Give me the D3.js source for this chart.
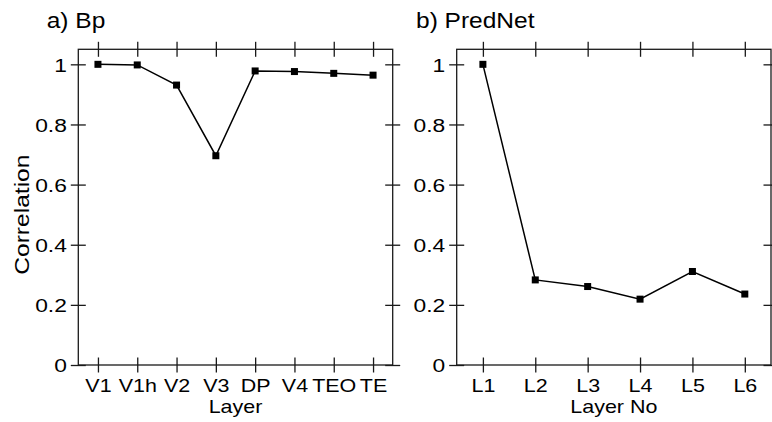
<!DOCTYPE html>
<html>
<head>
<meta charset="utf-8">
<script src="https://cdn.jsdelivr.net/npm/d3@7"></script>
<style>
  html, body { margin: 0; padding: 0; background: #fff; }
  svg { display: block; font-family: "Liberation Sans", Arial, Helvetica, sans-serif; }
</style>
</head>
<body>
<svg id="chart" width="772" height="422"></svg>
<script>
// ---- data ----
const layersA = ["V1", "V1h", "V2", "V3", "DP", "V4", "TEO", "TE"];
const corrA = [1.0, 0.998, 0.931, 0.696, 0.978, 0.976, 0.970, 0.964];
const layersB = ["L1", "L2", "L3", "L4", "L5", "L6"];
const corrB = [1.0, 0.283, 0.261, 0.219, 0.311, 0.236];
const yTicks = [0, 0.2, 0.4, 0.6, 0.8, 1];
const yTickLabels = ["0", "0.2", "0.4", "0.6", "0.8", "1"];
const titles = ["a) Bp", "b) PredNet"];
const xTitles = ["Layer", "Layer No"];
const yTitle = "Correlation";

// ---- layout ----
const svg = d3.select("#chart");
const plotTop = 49.3, plotBottom = 365;
const panels = [
  { x0: 78.3, x1: 392.7, cats: layersA, vals: corrA, title: titles[0], xt: xTitles[0], tx: 46.7 },
  { x0: 456.7, x1: 771, cats: layersB, vals: corrB, title: titles[1], xt: xTitles[1], tx: 416 }
];
const FS = 19, SX = 1.13, T = 7.5;
const ink = "#1a1a1a";

const y = d3.scaleLinear().domain([0, 1.05]).range([plotBottom, plotTop]);

function styleTicks(sel, orient) {
  sel.select(".domain").remove();
  sel.selectAll(".tick line").attr("stroke", ink).attr("stroke-width", 1.3);
  if (orient === "h") sel.selectAll(".tick line").attr("y1", -T).attr("y2", T);
  else sel.selectAll(".tick line").attr("x1", -T).attr("x2", T);
}

panels.forEach(p => {
  const x = d3.scalePoint().domain(p.cats).range([p.x0, p.x1]).padding(0.5);
  const g = svg.append("g");

  // frame
  g.append("rect")
    .attr("x", p.x0).attr("y", plotTop)
    .attr("width", p.x1 - p.x0).attr("height", plotBottom - plotTop)
    .attr("fill", "none").attr("stroke", ink).attr("stroke-width", 1.3);

  // bottom axis
  const ab = g.append("g").attr("transform", `translate(0,${plotBottom})`)
    .call(d3.axisBottom(x).tickSizeOuter(0));
  styleTicks(ab, "h");
  ab.selectAll(".tick text")
    .attr("y", 26.7).attr("dy", null)
    .attr("fill", "#000").attr("font-size", FS).attr("font-family", null)
    .attr("transform", `scale(${SX},1)`);

  // top axis
  const at = g.append("g").attr("transform", `translate(0,${plotTop})`)
    .call(d3.axisTop(x).tickSizeOuter(0).tickFormat(""));
  styleTicks(at, "h");

  // left axis
  const al = g.append("g").attr("transform", `translate(${p.x0},0)`)
    .call(d3.axisLeft(y).tickValues(yTicks).tickSizeOuter(0)
      .tickFormat((d, i) => yTickLabels[i]));
  styleTicks(al, "v");
  al.selectAll(".tick text")
    .attr("x", -11.5 / 1.2).attr("dy", "0.36em")
    .attr("fill", "#000").attr("font-size", FS).attr("font-family", null)
    .attr("transform", `scale(1.2,1)`);

  // right axis
  const ar = g.append("g").attr("transform", `translate(${p.x1},0)`)
    .call(d3.axisRight(y).tickValues(yTicks).tickSizeOuter(0).tickFormat(""));
  styleTicks(ar, "v");

  // line
  const data = p.cats.map((c, i) => ({ c, v: p.vals[i] }));
  g.append("path")
    .datum(data)
    .attr("fill", "none").attr("stroke", "#000").attr("stroke-width", 1.5)
    .attr("d", d3.line().x(d => x(d.c)).y(d => y(d.v)));

  // markers
  const ms = 7;
  g.selectAll("rect.m").data(data).enter().append("rect")
    .attr("class", "m")
    .attr("x", d => x(d.c) - ms / 2).attr("y", d => y(d.v) - ms / 2)
    .attr("width", ms).attr("height", ms).attr("fill", "#000");

  // panel title
  g.append("text")
    .attr("transform", `translate(${p.tx},28) scale(1.14,1)`)
    .attr("font-size", 21.5).attr("fill", "#000")
    .text(p.title);

  // x title
  g.append("text")
    .attr("transform", `translate(${(p.x0 + p.x1) / 2},412.7) scale(${SX},1)`)
    .attr("text-anchor", "middle")
    .attr("font-size", FS).attr("fill", "#000")
    .text(p.xt);
});

// y title
svg.append("text")
  .attr("transform", `translate(29,${y(0.5)}) rotate(-90) scale(1.2,1)`)
  .attr("text-anchor", "middle")
  .attr("font-size", 20.5).attr("fill", "#000")
  .text(yTitle);
</script>
</body>
</html>
